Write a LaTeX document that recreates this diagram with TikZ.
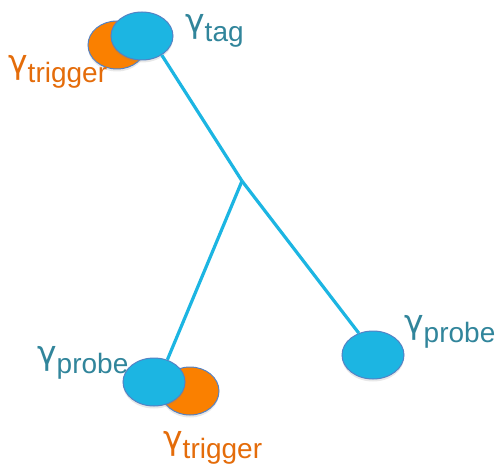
\documentclass[tikz,border=0pt]{standalone}
\usepackage{fontspec}
\setmainfont{Liberation Sans}
\newfontfamily\greekfont{DejaVu Sans}
\usetikzlibrary{shapes.geometric, shadows}
\definecolor{photonblue}{RGB}{28,181,226}
\definecolor{photonorange}{RGB}{250,128,0}
\definecolor{rimblue}{RGB}{84,130,196}
\definecolor{tealtext}{RGB}{49,133,155}
\definecolor{orangetext}{RGB}{228,108,10}
\newcommand{\phlabel}[1]{{\greekfont\fontsize{33}{33}\selectfont γ}\raisebox{-9pt}{\fontsize{28}{28}\selectfont #1}}
\begin{document}
\begin{tikzpicture}[x=1pt, y=-1pt,
  blob/.style={ellipse, draw=rimblue, line width=1pt, inner sep=0pt, minimum width=62pt, minimum height=48pt,
    drop shadow={shadow xshift=0pt, shadow yshift=-2.5pt, opacity=0.18}},
  track/.style={photonblue, line width=3.2pt},
  lbl/.style={anchor=base west, inner sep=0pt}]
  \useasboundingbox (0,0) rectangle (498,468);
  % photons
  \node[blob, fill=photonorange, minimum width=58pt] (tagO) at (117,45) {};
  \node[blob, fill=photonblue] (tagB) at (142,36) {};
  \node[blob, fill=photonorange, minimum width=58pt] (probeLO) at (190,391) {};
  \node[blob, fill=photonblue] (probeL) at (154,382) {};
  \node[blob, fill=photonblue] (probeR) at (373,355) {};
  % tracks
  \coordinate (split) at (242,181);
  \draw[track] (tagB.-44) -- (split);
  \draw[track] (split) -- (probeR.123);
  \draw[track] (split) -- (probeL.59);
  % labels
  \node[lbl, text=tealtext] (tagTxt) at (185,33) {\phlabel{tag}};
  \node[lbl, text=orangetext] (trigTopTxt) at (8,74) {\phlabel{trigger}};
  \node[lbl, text=tealtext] (probeLTxt) at (37,364) {\phlabel{probe}};
  \node[lbl, text=tealtext] (probeRTxt) at (404,333) {\phlabel{probe}};
  \node[lbl, text=orangetext] (trigBotTxt) at (163,449) {\phlabel{trigger}};
\end{tikzpicture}
\end{document}
